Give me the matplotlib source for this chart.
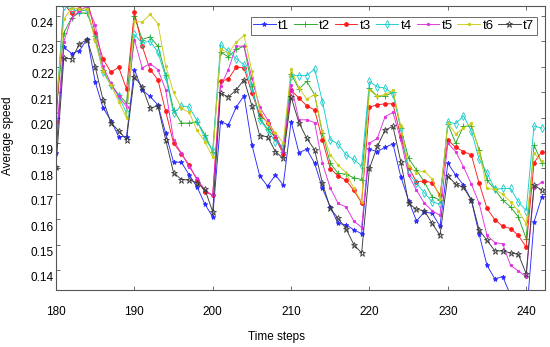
import matplotlib
matplotlib.use('Agg')
import matplotlib.pyplot as plt
from matplotlib.transforms import ScaledTranslation
import numpy as np

plt.rcParams['font.family'] = ['Liberation Sans', 'DejaVu Sans']

steps = list(range(180, 243))

t1 = [0.1860, 0.2277, 0.2252, 0.2263, 0.2311, 0.2140, 0.2039, 0.1988, 0.1925, 0.1925,
      0.2189, 0.2108, 0.2083, 0.2050, 0.1938, 0.1824, 0.1824, 0.1774, 0.1727, 0.1659,
      0.1609, 0.1984, 0.1971, 0.2041, 0.2086, 0.1892, 0.1770, 0.1730, 0.1774, 0.1734,
      0.1984, 0.1862, 0.1875, 0.1820, 0.1721, 0.1648, 0.1583, 0.1578, 0.1558, 0.1543,
      0.1875, 0.1866, 0.1883, 0.1896, 0.1767, 0.1673, 0.1593, 0.1628, 0.1623, 0.1572,
      0.1820, 0.1774, 0.1734, 0.1675, 0.1540, 0.1418, 0.1365, 0.1374, 0.1301, 0.1253,
      0.1203, 0.1589, 0.1688]
t2 = [0.2018, 0.2333, 0.2393, 0.2413, 0.2410, 0.2320, 0.2188, 0.2129, 0.2090, 0.2057,
      0.2399, 0.2307, 0.2318, 0.2281, 0.2169, 0.2030, 0.1978, 0.1978, 0.1984, 0.1932,
      0.1866, 0.2257, 0.2239, 0.2268, 0.2281, 0.2123, 0.1998, 0.1954, 0.1922, 0.1866,
      0.2173, 0.2112, 0.2142, 0.2090, 0.1938, 0.1820, 0.1780, 0.1777, 0.1763, 0.1756,
      0.2116, 0.2083, 0.2085, 0.2099, 0.1958, 0.1839, 0.1793, 0.1747, 0.1688, 0.1675,
      0.1975, 0.1899, 0.1965, 0.1967, 0.1873, 0.1754, 0.1717, 0.1675, 0.1648, 0.1609,
      0.1523, 0.1892, 0.1820]
t3 = [0.1984, 0.2448, 0.2410, 0.2429, 0.2463, 0.2333, 0.2231, 0.2178, 0.2198, 0.2112,
      0.2415, 0.2281, 0.2189, 0.2149, 0.2024, 0.1899, 0.1857, 0.1813, 0.1754, 0.1708,
      0.1694, 0.2142, 0.2152, 0.2199, 0.2195, 0.2096, 0.2011, 0.1980, 0.1918, 0.1857,
      0.2107, 0.2077, 0.2046, 0.2030, 0.1912, 0.1799, 0.1770, 0.1753, 0.1713, 0.1664,
      0.2041, 0.2050, 0.2054, 0.2054, 0.1925, 0.1803, 0.1747, 0.1751, 0.1743, 0.1694,
      0.1912, 0.1883, 0.1866, 0.1853, 0.1741, 0.1642, 0.1598, 0.1572, 0.1563, 0.1536,
      0.1490, 0.1822, 0.1866]
t4 = [0.2030, 0.2440, 0.2426, 0.2419, 0.2423, 0.2310, 0.2178, 0.2129, 0.2084, 0.2017,
      0.2327, 0.2294, 0.2301, 0.2257, 0.2160, 0.2017, 0.2046, 0.2041, 0.1988, 0.1918,
      0.1870, 0.2287, 0.2261, 0.2231, 0.2208, 0.2116, 0.1991, 0.1951, 0.1905, 0.1886,
      0.2165, 0.2165, 0.2165, 0.2191, 0.2063, 0.1912, 0.1896, 0.1853, 0.1835, 0.1809,
      0.2142, 0.2120, 0.2116, 0.2094, 0.1958, 0.1780, 0.1741, 0.1704, 0.1668, 0.1659,
      0.1984, 0.1975, 0.2007, 0.1947, 0.1835, 0.1783, 0.1717, 0.1721, 0.1721, 0.1668,
      0.1633, 0.1967, 0.1958]
t5 = [0.1898, 0.2299, 0.2393, 0.2419, 0.2439, 0.2366, 0.2201, 0.2135, 0.2084, 0.2043,
      0.2307, 0.2195, 0.2212, 0.2189, 0.2109, 0.1912, 0.1859, 0.1806, 0.1760, 0.1714,
      0.1694, 0.2123, 0.2189, 0.2281, 0.2281, 0.2156, 0.2041, 0.1991, 0.1932, 0.1866,
      0.2129, 0.1991, 0.1991, 0.1980, 0.1820, 0.1723, 0.1662, 0.1648, 0.1593, 0.1567,
      0.1899, 0.1918, 0.2004, 0.2020, 0.1912, 0.1773, 0.1714, 0.1663, 0.1633, 0.1615,
      0.1899, 0.1866, 0.1806, 0.1738, 0.1662, 0.1536, 0.1508, 0.1503, 0.1418, 0.1396,
      0.1372, 0.1721, 0.1747]
t6 = [0.2043, 0.2386, 0.2433, 0.2426, 0.2428, 0.2301, 0.2183, 0.2129, 0.2063, 0.1998,
      0.2378, 0.2376, 0.2406, 0.2370, 0.2204, 0.2099, 0.2037, 0.2020, 0.1949, 0.1905,
      0.1843, 0.2270, 0.2254, 0.2297, 0.2323, 0.2182, 0.2024, 0.1978, 0.1941, 0.1899,
      0.2191, 0.2116, 0.2073, 0.2090, 0.1945, 0.1853, 0.1813, 0.1783, 0.1721, 0.1668,
      0.2108, 0.2083, 0.2091, 0.2107, 0.1965, 0.1808, 0.1783, 0.1789, 0.1758, 0.1681,
      0.1978, 0.1936, 0.1958, 0.1978, 0.1866, 0.1721, 0.1717, 0.1698, 0.1668, 0.1633,
      0.1582, 0.1859, 0.1828]
t7 = [0.1806, 0.2233, 0.2231, 0.2290, 0.2307, 0.2200, 0.2070, 0.1980, 0.1948, 0.1913,
      0.2160, 0.2121, 0.2037, 0.2046, 0.1912, 0.1783, 0.1756, 0.1754, 0.1743, 0.1717,
      0.1629, 0.2096, 0.2081, 0.2109, 0.2149, 0.2046, 0.1928, 0.1925, 0.1866, 0.1839,
      0.2081, 0.1980, 0.1918, 0.1873, 0.1741, 0.1643, 0.1603, 0.1563, 0.1500, 0.1467,
      0.1800, 0.1886, 0.1951, 0.1965, 0.1826, 0.1662, 0.1639, 0.1633, 0.1583, 0.1536,
      0.1770, 0.1738, 0.1725, 0.1675, 0.1557, 0.1517, 0.1475, 0.1475, 0.1467, 0.1462,
      0.1385, 0.1734, 0.1714]

series = [t1, t2, t3, t4, t5, t6, t7]
names = ['t1', 't2', 't3', 't4', 't5', 't6', 't7']

# matlab-ish line specs
colors = ['#2a2aff', '#22a822', '#ff1a1a', '#18cccc', '#e030e0', '#cccc18', '#3a3a3a']
markers = ['*', '+', '.', 'd', '.', '.', '*']
msizes = [3.5, 4.5, 5.5, 4, 3.5, 3.5, 4.5]
filled = [True, True, True, False, True, True, False]

fig = plt.figure(figsize=(5.5, 3.47), dpi=100)
ax = fig.add_axes([0.1018, 0.1657, 0.8891, 0.817])

for y, name, c, m, ms, f in zip(series, names, colors, markers, msizes, filled):
    ax.plot(steps, y, color=c, marker=m, markersize=ms, linewidth=0.65,
            markerfacecolor=c if f else 'none', markeredgewidth=0.6, label=name)

ax.set_xlim(180, 242.4)
ax.set_ylim(0.1323, 0.2439)
ax.set_xticks(np.arange(180, 241, 10))
ax.set_yticks(np.arange(0.14, 0.2401, 0.01))
ax.set_yticklabels(['%.2f' % v for v in np.arange(0.14, 0.2401, 0.01)])

ax.tick_params(direction='in', top=True, right=True, length=3, width=0.6,
               labelsize=8.5, colors='#555555', labelcolor='black')
ax.tick_params(axis='x', pad=12)
ax.tick_params(axis='y', pad=1.5)
for lab in ax.get_yticklabels():
    lab.set_transform(lab.get_transform() + ScaledTranslation(0, -0.07, fig.dpi_scale_trans))
for s in ax.spines.values():
    s.set_color('#555555')
    s.set_linewidth(0.8)

ax.set_xlabel('Time steps', fontsize=8.5)
ax.set_ylabel('Average speed', fontsize=8.5)
ax.xaxis.set_label_coords(0.451, -0.145)
ax.yaxis.set_label_coords(-0.086, 0.541)

leg = ax.legend(ncol=7, loc='upper right', bbox_to_anchor=(537 / 550, 1 - 17 / 347),
                bbox_transform=fig.transFigure, fontsize=9.5, frameon=True, fancybox=False,
                handlelength=1.7, handletextpad=0.2, columnspacing=0.35, borderpad=0.2,
                borderaxespad=0)
leg.get_frame().set_edgecolor('#555555')
leg.get_frame().set_linewidth(0.6)
leg.get_frame().set_alpha(1)

plt.savefig('out.png', dpi=100)
plt.close()
